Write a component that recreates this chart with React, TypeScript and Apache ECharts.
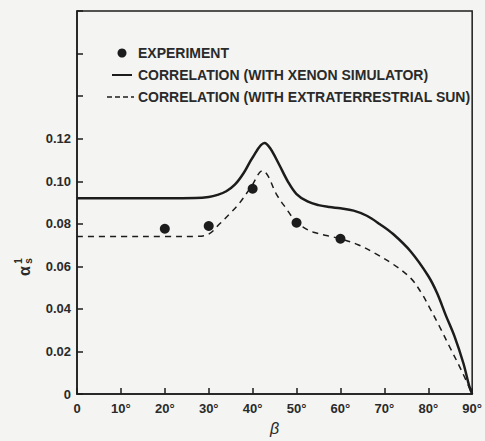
import React, { useEffect, useRef } from "react";
import * as echarts from "echarts";

const xTicks = [0, 10, 20, 30, 40, 50, 60, 70, 80, 90];
const yLabelMax = 0.12;

const xenonAngles = [0, 10, 20, 27, 30, 32, 34, 36, 38, 40, 42.7, 44, 46, 48, 50, 52.5, 55, 57.5, 60, 63, 66, 69, 72, 76, 80, 82, 84, 86, 88, 89.3, 90];
const xenonValues = [0.092, 0.092, 0.092, 0.0921, 0.0926, 0.0936, 0.0953, 0.0985, 0.104, 0.1112, 0.118, 0.1155, 0.108, 0.1, 0.094, 0.0905, 0.0888, 0.0879, 0.0873, 0.0862, 0.0838, 0.0798, 0.0752, 0.067, 0.0555, 0.0475, 0.037, 0.027, 0.0145, 0.004, 0];

const sunAngles = [0, 10, 20, 27, 30, 32.5, 35, 37, 39.7, 42.3, 43.5, 45.4, 47.7, 49.5, 51.5, 53.7, 56.8, 60, 64, 68, 72, 76, 78.6, 80.2, 82.5, 84.8, 87.7, 90];
const sunValues = [0.074, 0.074, 0.074, 0.0741, 0.0752, 0.08, 0.0852, 0.0897, 0.0975, 0.105, 0.1025, 0.094, 0.087, 0.082, 0.0785, 0.0762, 0.0745, 0.073, 0.0702, 0.066, 0.061, 0.0545, 0.047, 0.041, 0.032, 0.0225, 0.0105, 0];

const expAngles = [20, 30, 40, 50, 60];
const expValues = [0.0777, 0.079, 0.0965, 0.0805, 0.073];

const legendLabels = [
  "EXPERIMENT",
  "CORRELATION (WITH XENON SIMULATOR)",
  "CORRELATION (WITH EXTRATERRESTRIAL SUN)",
];

const INK = "#1c1c1c";
const TXT = "#2a2a2a";
const FONT = "'Liberation Sans', Arial, sans-serif";

export default function App() {
  const ref = useRef<HTMLDivElement>(null);
  useEffect(() => {
    document.body.style.margin = "0";
    if (!ref.current) return;
    const chart = echarts.init(ref.current, undefined, { renderer: "svg" });
    const zip = (a: number[], b: number[]) => a.map((v, i) => [v, b[i]]);
    const legendText = (y: number, t: string) => ({
      type: "text",
      x: 138,
      y,
      style: {
        text: t,
        fill: TXT,
        font: `bold 14px ${FONT}`,
        textVerticalAlign: "middle",
        textAlign: "left",
      },
    });
    chart.setOption({
      animation: false,
      backgroundColor: "#f4f4f2",
      grid: {
        left: 77,
        right: 12,
        top: 11,
        bottom: 39,
        show: true,
        borderColor: INK,
        borderWidth: 1.5,
        backgroundColor: "transparent",
      },
      xAxis: {
        type: "value",
        min: 0,
        max: 90,
        interval: 10,
        name: "β",
        nameLocation: "middle",
        nameGap: 17,
        nameTextStyle: { fontSize: 16, fontStyle: "italic", color: TXT, fontFamily: FONT },
        axisLine: { lineStyle: { color: INK, width: 1.5 } },
        axisTick: { inside: true, length: 6, lineStyle: { color: INK, width: 1.5 } },
        splitLine: { show: false },
        axisLabel: {
          margin: 8,
          color: TXT,
          fontSize: 13,
          fontWeight: "bold",
          fontFamily: FONT,
          formatter: (v: number) => (xTicks.includes(v) ? (v === 0 ? "0" : v + "°") : ""),
        },
      },
      yAxis: {
        type: "value",
        min: 0,
        max: 0.18,
        interval: 0.02,
        axisLine: { show: true, lineStyle: { color: INK, width: 1.5 } },
        axisTick: { show: true, inside: true, length: 6, lineStyle: { color: INK, width: 1.5 } },
        splitLine: { show: false },
        axisLabel: {
          margin: 6,
          color: TXT,
          fontSize: 13,
          fontWeight: "bold",
          fontFamily: FONT,
          formatter: (v: number) => (v > yLabelMax + 1e-6 ? "" : v === 0 ? "0" : v.toFixed(2)),
        },
      },
      series: [
        {
          type: "line",
          data: zip(xenonAngles, xenonValues),
          smooth: 0.35,
          showSymbol: false,
          lineStyle: { color: INK, width: 2.5 },
        },
        {
          type: "line",
          data: zip(sunAngles, sunValues),
          smooth: 0.35,
          showSymbol: false,
          lineStyle: { color: INK, width: 1.5, type: [6, 5] },
        },
        {
          type: "scatter",
          data: zip(expAngles, expValues),
          symbolSize: 10,
          itemStyle: { color: INK, opacity: 1 },
        },
      ],
      graphic: [
        { type: "circle", shape: { cx: 122, cy: 53, r: 4.5 }, style: { fill: INK } },
        { type: "line", shape: { x1: 112, y1: 75, x2: 132, y2: 75 }, style: { stroke: INK, lineWidth: 2 } },
        { type: "line", shape: { x1: 107, y1: 97, x2: 134, y2: 97 }, style: { stroke: INK, lineWidth: 1.5, lineDash: [5, 3] } },
        legendText(53, legendLabels[0]),
        legendText(75, legendLabels[1]),
        legendText(97, legendLabels[2]),
        {
          type: "group",
          x: 24,
          y: 266,
          rotation: Math.PI / 2,
          children: [
            { type: "text", x: -5, y: 0, style: { text: "α", fill: TXT, font: `bold 16px ${FONT}`, textAlign: "center", textVerticalAlign: "middle" } },
            { type: "text", x: 5, y: 4, style: { text: "s", fill: TXT, font: `bold 10px ${FONT}`, textAlign: "center", textVerticalAlign: "middle" } },
            { type: "text", x: 5, y: -6, style: { text: "1", fill: TXT, font: `bold 10px ${FONT}`, textAlign: "center", textVerticalAlign: "middle" } },
          ],
        },
      ],
    });
    return () => chart.dispose();
  }, []);
  return <div ref={ref} style={{ width: 485, height: 441 }} />;
}
